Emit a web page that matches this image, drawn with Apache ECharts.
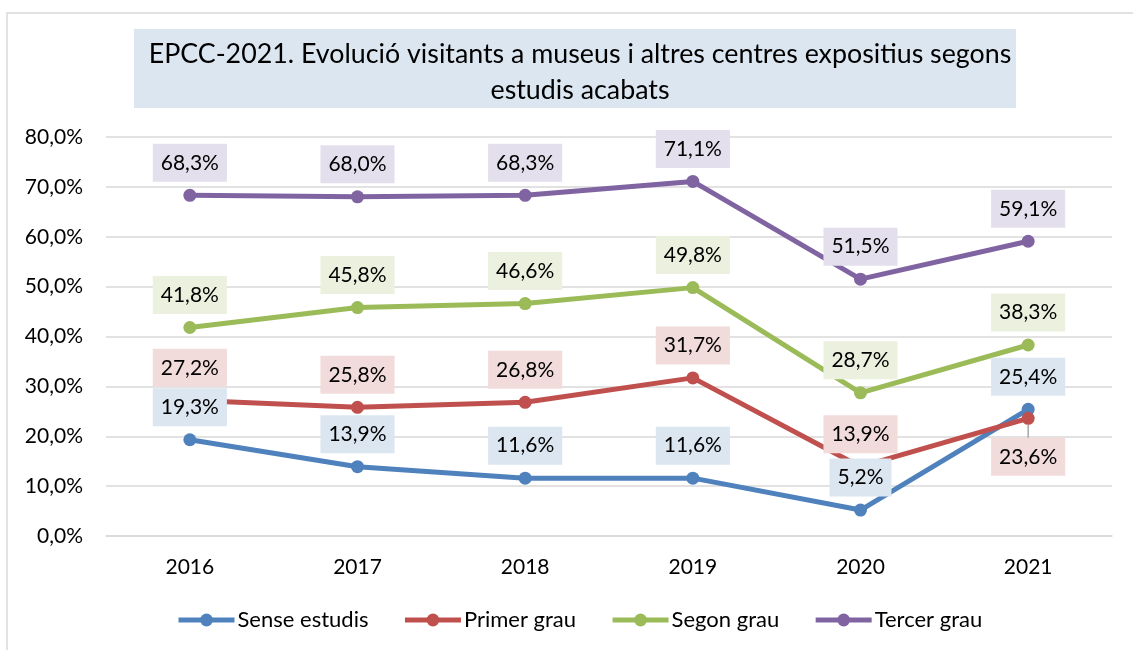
<!DOCTYPE html>
<html>
<head>
<meta charset="utf-8">
<script src="https://cdn.jsdelivr.net/npm/echarts@6/dist/echarts.min.js"></script>
<style>
html,body{margin:0;padding:0;background:#fff;}
#chart{width:1133px;height:650px;}
</style>
</head>
<body>
<div id="chart"></div>
<script>
const titleText = 'EPCC-2021. Evolució visitants a museus i altres centres expositius segons\nestudis acabats';
const years = ['2016', '2017', '2018', '2019', '2020', '2021'];
const seriesNames = ['Sense estudis', 'Primer grau', 'Segon grau', 'Tercer grau'];
const senseEstudis = [19.3, 13.9, 11.6, 11.6, 5.2, 25.4];
const primerGrau = [27.2, 25.8, 26.8, 31.7, 13.9, 23.6];
const segonGrau = [41.8, 45.8, 46.6, 49.8, 28.7, 38.3];
const tercerGrau = [68.3, 68.0, 68.3, 71.1, 51.5, 59.1];
const yTicks = [0, 10, 20, 30, 40, 50, 60, 70, 80];

const colors = ['#4f81bd', '#c0504d', '#9bbb59', '#8064a2'];
const labelBg = ['#dce6f1', '#f2dcdb', '#ebf1de', '#e4dfec'];
const FONT = 'Lato';

function fmt(v) { return v.toFixed(1).replace('.', ',') + '%'; }

function makeSeries(name, data, idx, special) {
  return {
    name: name,
    type: 'line',
    data: data.map((v, i) => {
      if (special && special[i]) {
        return { value: v, label: special[i].label, labelLine: special[i].labelLine };
      }
      return v;
    }),
    symbol: 'circle',
    symbolSize: 13,
    lineStyle: { width: 5, color: colors[idx] },
    itemStyle: { color: colors[idx] },
    z: 2,
    label: {
      show: true,
      position: 'top',
      distance: 7,
      formatter: p => fmt(p.value),
      fontFamily: FONT,
      fontSize: 21,
      color: '#000',
      backgroundColor: labelBg[idx],
      padding: [8, 8, 8, 8],
      lineHeight: 22
    },
    emphasis: { disabled: true },
    animation: false
  };
}

const chart = echarts.init(document.getElementById('chart'));
chart.setOption({
  animation: false,
  graphic: [
    { type: 'rect', z: -10, shape: { x: 7, y: 13, width: 1140, height: 660 },
      style: { fill: '#fff', stroke: '#d9d9d9', lineWidth: 1.5 } },
    { type: 'rect', z: -9, shape: { x: 134, y: 29, width: 882, height: 79 },
      style: { fill: '#dce6f1' } }
  ],
  title: {
    text: titleText,
    left: 575,
    top: 31,
    textAlign: 'center',
    textStyle: { fontFamily: FONT, fontSize: 26.8, fontWeight: 'normal', color: '#000', lineHeight: 36 }
  },
  legend: {
    data: seriesNames,
    left: 176,
    top: 609,
    padding: 0,
    itemWidth: 56,
    itemHeight: 16,
    itemGap: 34,
    lineStyle: { width: 5 },
    textStyle: { fontFamily: FONT, fontSize: 22, color: '#000', padding: [0, 0, 0, -2] }
  },
  grid: { left: 106, right: 21, top: 137, bottom: 114, containLabel: false },
  xAxis: {
    type: 'category',
    data: years,
    boundaryGap: true,
    axisLine: { show: true, lineStyle: { color: '#d9d9d9', width: 1.5 } },
    axisTick: { show: false },
    axisLabel: { fontFamily: FONT, fontSize: 21, color: '#000', margin: 21 }
  },
  yAxis: {
    type: 'value',
    min: 0,
    max: 80,
    interval: 10,
    axisLine: { show: false },
    axisTick: { show: false },
    splitLine: { lineStyle: { color: '#d9d9d9', width: 1.5 } },
    axisLabel: { fontFamily: FONT, fontSize: 21, color: '#000', margin: 23,
      formatter: v => yTicks.includes(v) ? fmt(v) : '' }
  },
  series: [
    makeSeries(seriesNames[0], senseEstudis, 0),
    makeSeries(seriesNames[1], primerGrau, 1, {
      5: { label: { position: 'bottom', distance: 13 },
           labelLine: { show: true, lineStyle: { color: '#a6a6a6', width: 1.5 } } }
    }),
    makeSeries(seriesNames[2], segonGrau, 2),
    makeSeries(seriesNames[3], tercerGrau, 3)
  ]
});
</script>
</body>
</html>
